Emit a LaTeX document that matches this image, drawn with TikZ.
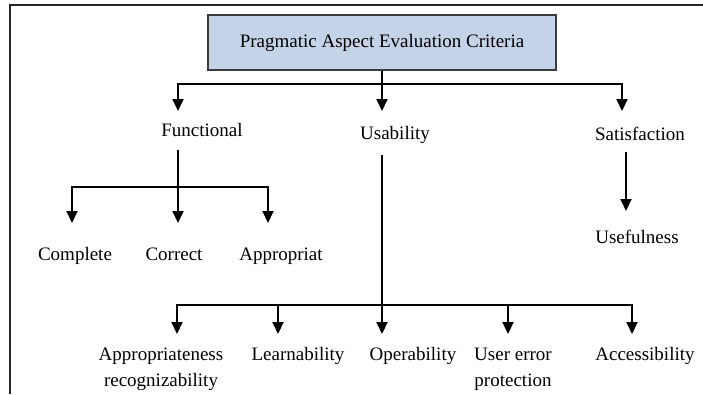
\documentclass[tikz,border=0pt]{standalone}
\usepackage{fontspec}
\setmainfont{Liberation Serif}
\usetikzlibrary{arrows.meta}
\definecolor{boxfill}{RGB}{197,211,233}
\definecolor{boxline}{RGB}{60,60,60}
\tikzset{
  lbl/.style={font=\fontsize{19}{26}\selectfont, inner sep=0pt, anchor=base, align=center},
  link/.style={line width=2pt, black},
  arr/.style={link, -{Triangle[width=11pt,length=12pt]}},
  rootbox/.style={draw=boxline, line width=1.2pt, fill=boxfill, minimum width=348pt,
    minimum height=55pt, inner sep=0pt, font=\fontsize{19}{26}\selectfont}
}
\begin{document}
\begin{tikzpicture}[x=1pt,y=-1pt]
\useasboundingbox (0,0) rectangle (703,394);
% outer frame (only the left and top edges show)
\draw[line width=1.8pt, black!85] (10,394) -- (10,5) -- (703,5);

% root
\node[rootbox] (root) at (382,42.5) {Pragmatic Aspect Evaluation Criteria};

% first level
\node[lbl] (func) at (202,136) {Functional};
\node[lbl] (usab) at (395,139) {Usability};
\node[lbl] (sat)  at (640,140) {Satisfaction};

% functional children
\node[lbl] (compl) at (75,260) {Complete};
\node[lbl] (corr)  at (174,260) {Correct};
\node[lbl] (appr)  at (281,260) {Appropriat};

% satisfaction child
\node[lbl] (usef) at (637,243) {Usefulness};

% usability children (two-line labels sit on their last baseline)
\node[lbl] (apprec) at (161,386) {Appropriateness\\recognizability};
\node[lbl] (learn)  at (298,360) {Learnability};
\node[lbl] (oper)   at (413,360) {Operability};
\node[lbl] (uerr)   at (513,386) {User error\\protection};
\node[lbl] (acc)    at (645,360) {Accessibility};

% junctions and arrow tips
\coordinate (j0) at (382,84);
\coordinate (tFunc) at (178,111);
\coordinate (tUsab) at (382,111);
\coordinate (tSat)  at (622,111);

\coordinate (sFunc) at (178,150);
\coordinate (j1) at (178,187);
\coordinate (tCompl) at (72,223);
\coordinate (tCorr)  at (178,223);
\coordinate (tAppr)  at (268,223);

\coordinate (sSat) at (626,152);
\coordinate (tUsef) at (626,211);

\coordinate (sUsab) at (382,155);
\coordinate (j2) at (382,305);
\coordinate (tApprec) at (177,334);
\coordinate (tLearn)  at (278,334);
\coordinate (tOper)   at (382,334);
\coordinate (tUerr)   at (508,334);
\coordinate (tAcc)    at (632,334);

% root to first level
\draw[link] (root.south -| j0) -- (j0);
\draw[arr] (j0) -| (tFunc);
\draw[arr] (j0) -- (tUsab);
\draw[arr] (j0) -| (tSat);

% functional branch
\draw[link] (sFunc) -- (j1);
\draw[arr] (j1) -| (tCompl);
\draw[arr] (j1) -- (tCorr);
\draw[arr] (j1) -| (tAppr);

% satisfaction branch
\draw[arr] (sSat) -- (tUsef);

% usability branch
\draw[link] (sUsab) -- (j2);
\draw[arr] (j2) -| (tApprec);
\draw[arr] (j2) -| (tLearn);
\draw[arr] (j2) -- (tOper);
\draw[arr] (j2) -| (tUerr);
\draw[arr] (j2) -| (tAcc);
\end{tikzpicture}
\end{document}
